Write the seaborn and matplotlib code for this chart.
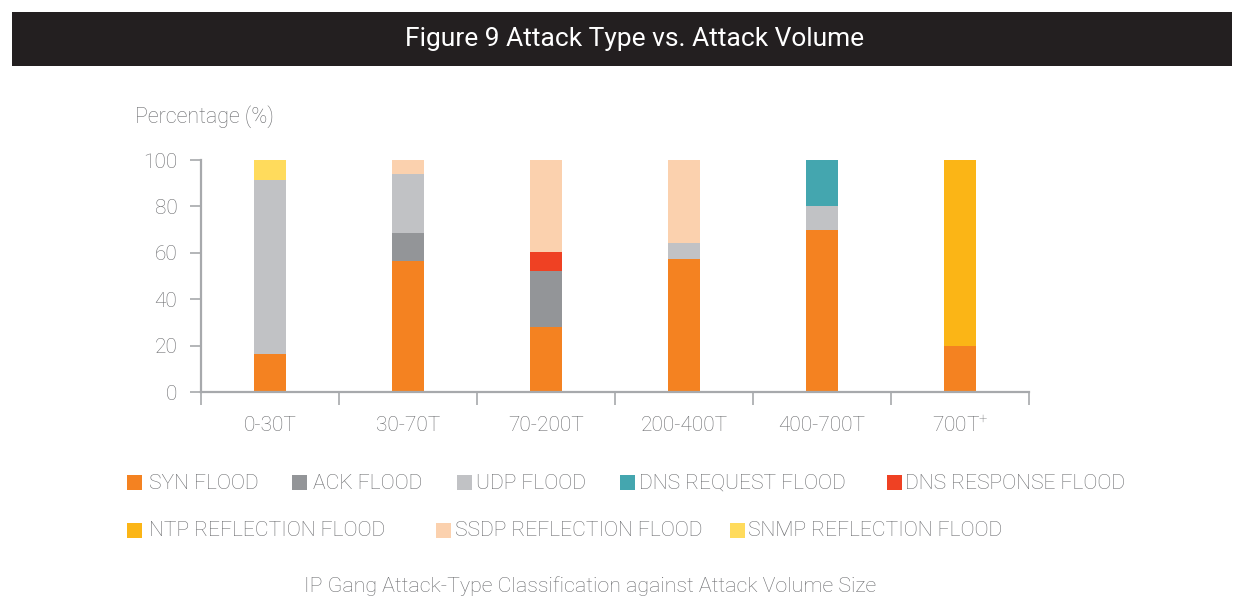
import matplotlib
matplotlib.use("Agg")
import matplotlib.pyplot as plt
from matplotlib.patches import Rectangle
import numpy as np
import pandas as pd
import seaborn as sns

# Attack volume buckets
volumes = ["0-30T", "30-70T", "70-200T", "200-400T", "400-700T", "700T$^{+}$"]

# Share (%) of each attack type per volume bucket, bottom of stack first
syn_flood = [16.5, 56.5, 28.0, 57.3, 70.0, 20.0]
ack_flood = [0.0, 12.0, 24.0, 0.0, 0.0, 0.0]
udp_flood = [75.0, 25.5, 0.0, 7.0, 10.0, 0.0]
dns_request_flood = [0.0, 0.0, 0.0, 0.0, 20.0, 0.0]
dns_response_flood = [0.0, 0.0, 8.5, 0.0, 0.0, 0.0]
ntp_reflection_flood = [0.0, 0.0, 0.0, 0.0, 0.0, 80.0]
ssdp_reflection_flood = [0.0, 6.0, 39.5, 35.7, 0.0, 0.0]
snmp_reflection_flood = [8.5, 0.0, 0.0, 0.0, 0.0, 0.0]

series_names = ["SYN FLOOD", "ACK FLOOD", "UDP FLOOD", "DNS REQUEST FLOOD",
                "DNS RESPONSE FLOOD", "NTP REFLECTION FLOOD",
                "SSDP REFLECTION FLOOD", "SNMP REFLECTION FLOOD"]
series_values = [syn_flood, ack_flood, udp_flood, dns_request_flood,
                 dns_response_flood, ntp_reflection_flood,
                 ssdp_reflection_flood, snmp_reflection_flood]
series_colors = ["#F48221", "#939598", "#C1C2C5", "#44A6AF",
                 "#EF4123", "#FBB516", "#FBD1AE", "#FFDB5C"]

sns.set_style("white")
plt.rcParams["font.family"] = ["Roboto", "DejaVu Sans"]
plt.rcParams["font.weight"] = "light"
plt.rcParams["mathtext.fontset"] = "custom"
plt.rcParams["mathtext.rm"] = "Roboto:light"
plt.rcParams["mathtext.default"] = "regular"

W, H = 1244, 596
fig = plt.figure(figsize=(W / 100, H / 100), dpi=100)
fig.patch.set_facecolor("white")

def fx(px):
    return px / W

def fy(py):
    return 1 - py / H

text_gray = "#6A6B6E"
axis_gray = "#A7A9AC"

# Title banner
fig.patches.append(Rectangle((fx(12), fy(66)), fx(1232) - fx(12), fy(12) - fy(66),
                             transform=fig.transFigure, facecolor="#231F20",
                             edgecolor="none", zorder=0))
fig.text(fx(635), fy(39), "Figure 9 Attack Type vs. Attack Volume", color="white",
         fontsize=19, fontweight="normal", ha="center", va="center")

ax = fig.add_axes([fx(201), fy(392), fx(1029) - fx(201), fy(160) - fy(392)])

# Stacked bars: draw cumulative totals from the top layer down
cum = np.cumsum(np.array(series_values), axis=0)
for i in range(len(series_names) - 1, -1, -1):
    df = pd.DataFrame({"volume": volumes, "value": cum[i]})
    sns.barplot(data=df, x="volume", y="value", color=series_colors[i],
                saturation=1, width=0.225, ax=ax, edgecolor="none", linewidth=0)

ax.set_xlim(-0.5, len(volumes) - 0.5)
ax.set_ylim(0, 100)
ax.set_yticks(np.arange(0, 101, 20))
ax.set_xlabel("")
ax.set_ylabel("")

for side in ["top", "right"]:
    ax.spines[side].set_visible(False)
for side in ["left", "bottom"]:
    ax.spines[side].set_color(axis_gray)
    ax.spines[side].set_linewidth(1.6)

ax.tick_params(axis="y", which="major", length=8, width=1.2, color=axis_gray,
               labelcolor=text_gray, labelsize=15, pad=9, left=True)
ax.tick_params(axis="x", which="major", length=0, labelcolor=text_gray,
               labelsize=15, pad=17)
ax.set_xticks(np.arange(-0.5, len(volumes), 1.0), minor=True)
ax.tick_params(axis="x", which="minor", length=9, width=1.2, color=axis_gray,
               bottom=True, direction="out")

fig.text(fx(135), fy(117), "Percentage (%)", color=text_gray, fontsize=15.5,
         ha="left", va="center")

# Legend: (swatch x, label x, row y) in pixels
legend_slots = [(127, 149, 482.5), (292, 313, 482.5), (457, 476, 482.5),
                (620, 639, 482.5), (887, 905, 482.5),
                (127, 149, 530), (436, 455, 530), (730, 748, 530)]
sq = 15
for (sx, tx, ly), name, col in zip(legend_slots, series_names, series_colors):
    fig.patches.append(Rectangle((fx(sx), fy(ly + sq / 2)), sq / W, sq / H,
                                 transform=fig.transFigure, facecolor=col,
                                 edgecolor="none"))
    fig.text(fx(tx), fy(ly + 1), name, color=text_gray, fontsize=15.2,
             ha="left", va="center")

fig.text(fx(590), fy(586), "IP Gang Attack-Type Classification against Attack Volume Size",
         color=text_gray, fontsize=15.4, ha="center", va="center")

fig.savefig("out.png", dpi=100, facecolor="white")
